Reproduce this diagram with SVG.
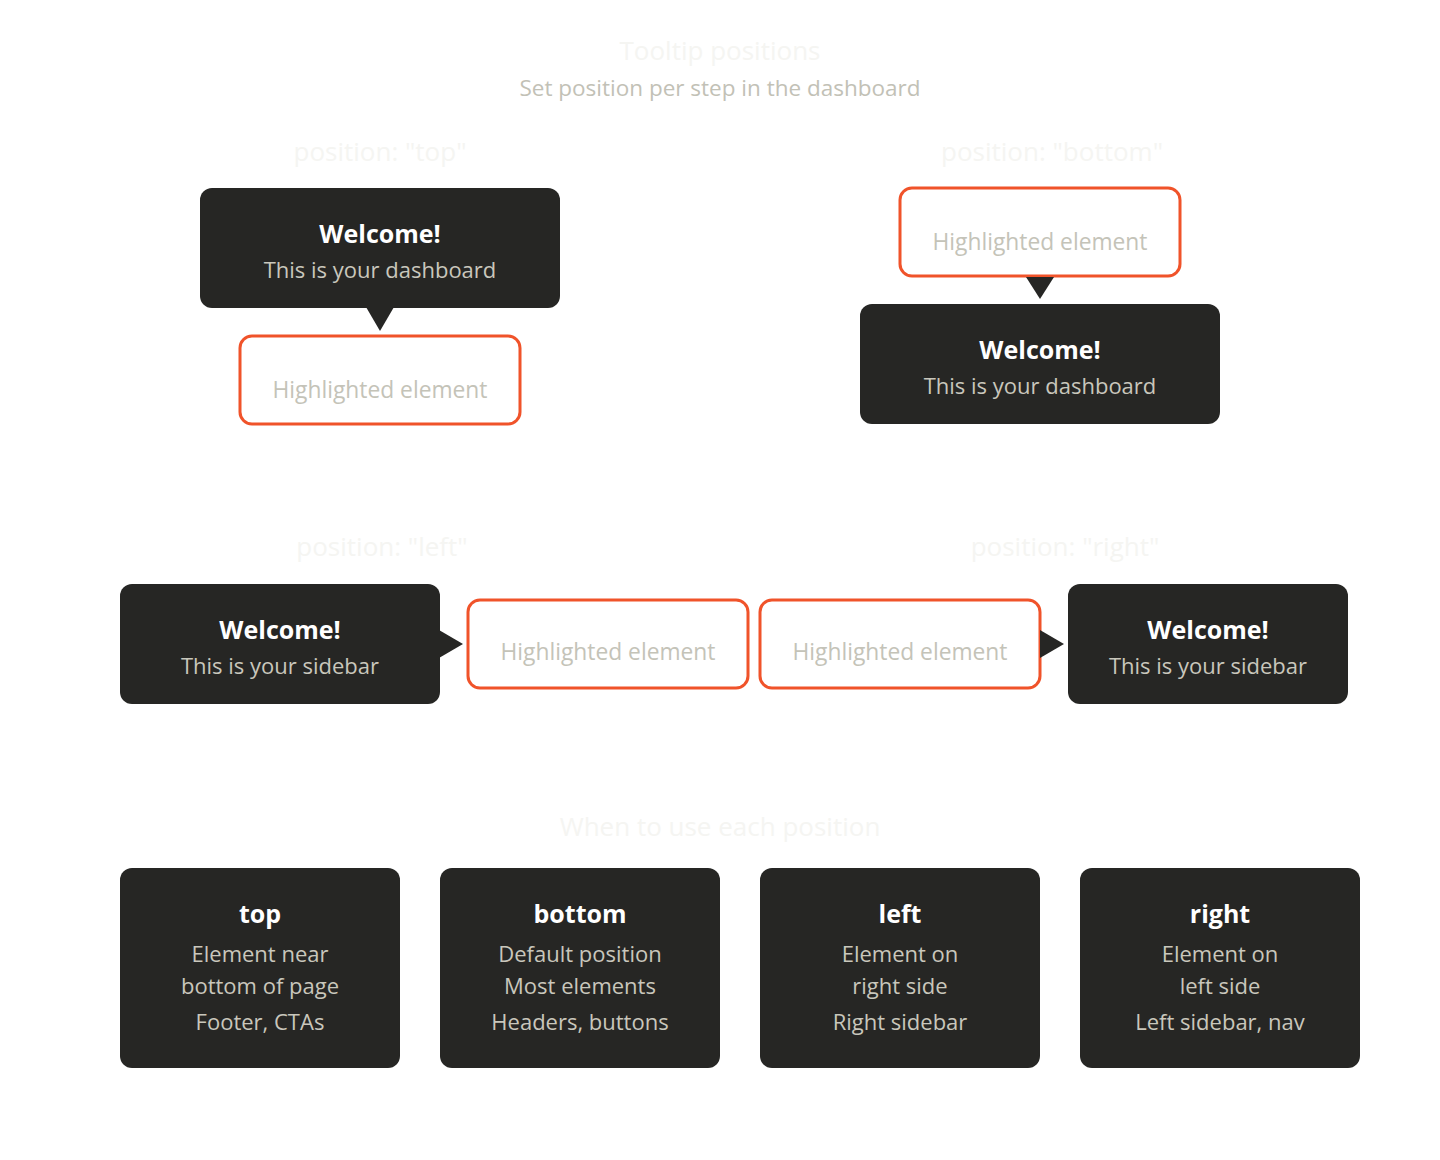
<svg xmlns="http://www.w3.org/2000/svg" width="1440" height="1160" viewBox="0 0 1440 1160">
<style>
text{font-family:"Open Sans","Noto Sans","DejaVu Sans",sans-serif;text-anchor:middle}
.bg{fill:#ffffff}
.faint{fill:#f5f5f2;font-size:26px}
.sub{fill:#c2c1b6;font-size:22.5px}
.tip{fill:#262624}
.hl{fill:#ffffff;stroke:#f0532a;stroke-width:3}
.hlt{fill:#c4c3b8;font-size:22.8px}
.h{fill:#ffffff;font-size:25px;font-weight:700}
.b{fill:#c9c7bc;font-size:22px}
.arr{fill:#262624}
</style>
<rect class="bg" width="1440" height="1160"/>
<g id="title">
<text class="faint" x="720" y="60">Tooltip positions</text>
<text class="sub" x="720" y="96">Set position per step in the dashboard</text>
</g>
<g id="label-top"><text class="faint" x="380" y="161">position: "top"</text></g>
<g id="label-bottom"><text class="faint" x="1052" y="161">position: "bottom"</text></g>
<g id="label-left"><text class="faint" x="382" y="556">position: "left"</text></g>
<g id="label-right"><text class="faint" x="1065" y="556">position: "right"</text></g>
<g id="label-when"><text class="faint" x="720" y="836">When to use each position</text></g>

<g id="tip-top">
<rect class="tip" x="200" y="188" width="360" height="120" rx="12"/>
<text class="h" x="380" y="243">Welcome!</text>
<text class="b" x="380" y="278">This is your dashboard</text>
</g>
<g id="hl-top">
<rect class="hl" x="240" y="336" width="280" height="88" rx="12"/>
<text class="hlt" x="380" y="398">Highlighted element</text>
</g>

<g id="hl-bottom">
<rect class="hl" x="900" y="188" width="280" height="88" rx="12"/>
<text class="hlt" x="1040" y="250">Highlighted element</text>
</g>
<g id="tip-bottom">
<rect class="tip" x="860" y="304" width="360" height="120" rx="12"/>
<text class="h" x="1040" y="359">Welcome!</text>
<text class="b" x="1040" y="394">This is your dashboard</text>
</g>

<g id="tip-left">
<rect class="tip" x="120" y="584" width="320" height="120" rx="12"/>
<text class="h" x="280" y="639">Welcome!</text>
<text class="b" x="280" y="674">This is your sidebar</text>
</g>
<g id="hl-left">
<rect class="hl" x="468" y="600" width="280" height="88" rx="12"/>
<text class="hlt" x="608" y="660">Highlighted element</text>
</g>
<g id="hl-right">
<rect class="hl" x="760" y="600" width="280" height="88" rx="12"/>
<text class="hlt" x="900" y="660">Highlighted element</text>
</g>
<g id="tip-right">
<rect class="tip" x="1068" y="584" width="280" height="120" rx="12"/>
<text class="h" x="1208" y="639">Welcome!</text>
<text class="b" x="1208" y="674">This is your sidebar</text>
</g>

<g id="connectors">
<polygon class="arr" points="366,307 394,307 380,331"/>
<polygon class="arr" points="1026,277 1054,277 1040,299"/>
<polygon class="arr" points="439,630 439,658 463,644"/>
<polygon class="arr" points="1040,630 1040,658 1064,644"/>
</g>

<g id="card-top">
<rect class="tip" x="120" y="868" width="280" height="200" rx="12"/>
<text class="h" x="260" y="923">top</text>
<text class="b" x="260" y="962">Element near</text>
<text class="b" x="260" y="994">bottom of page</text>
<text class="b" x="260" y="1030">Footer, CTAs</text>
</g>
<g id="card-bottom">
<rect class="tip" x="440" y="868" width="280" height="200" rx="12"/>
<text class="h" x="580" y="923">bottom</text>
<text class="b" x="580" y="962">Default position</text>
<text class="b" x="580" y="994">Most elements</text>
<text class="b" x="580" y="1030">Headers, buttons</text>
</g>
<g id="card-left">
<rect class="tip" x="760" y="868" width="280" height="200" rx="12"/>
<text class="h" x="900" y="923">left</text>
<text class="b" x="900" y="962">Element on</text>
<text class="b" x="900" y="994">right side</text>
<text class="b" x="900" y="1030">Right sidebar</text>
</g>
<g id="card-right">
<rect class="tip" x="1080" y="868" width="280" height="200" rx="12"/>
<text class="h" x="1220" y="923">right</text>
<text class="b" x="1220" y="962">Element on</text>
<text class="b" x="1220" y="994">left side</text>
<text class="b" x="1220" y="1030">Left sidebar, nav</text>
</g>
</svg>
